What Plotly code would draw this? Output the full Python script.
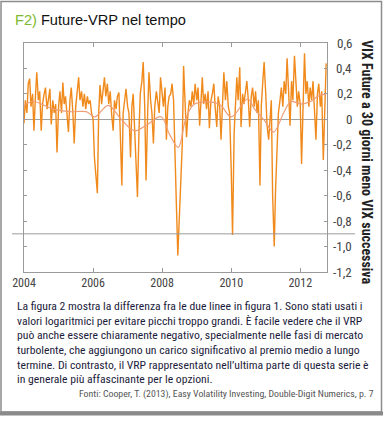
import pandas as pd
import plotly.graph_objects as go

# ---- data (semi-monthly samples) ----
vrp_2004 = [-0.03, 0.15, 0.05, 0.28, 0.32, 0.10, 0.20, -0.09, 0.18, 0.37, 0.15, 0.22,
            -0.09, 0.12, 0.20, 0.25, 0.08, 0.18, 0.24, -0.04, 0.15, 0.05, 0.12, -0.26]
vrp_2005 = [0.10, 0.22, 0.05, 0.29, 0.12, 0.18, 0.02, -0.10, 0.15, 0.25, 0.05, -0.19,
            0.10, 0.22, 0.33, 0.15, 0.22, 0.10, 0.20, 0.08, 0.18, 0.12, 0.15, 0.05]
vrp_2006 = [0.00, -0.30, -0.45, -0.58, 0.05, 0.27, 0.12, 0.25, 0.33, 0.18, 0.28, 0.12,
            0.22, 0.05, -0.09, 0.15, 0.08, 0.18, 0.21, -0.10, -0.52, 0.05, 0.15, 0.24]
vrp_2007 = [0.10, 0.05, -0.30, 0.10, 0.20, -0.05, -0.25, -0.61, -0.10, 0.20, 0.30, 0.45,
            0.10, -0.48, 0.05, 0.37, 0.15, 0.05, -0.19, 0.10, 0.22, 0.15, 0.05, 0.33]
vrp_2008 = [0.20, 0.10, 0.25, -0.16, 0.10, 0.18, 0.20, 0.28, 0.15, -0.35, -0.70, -1.07,
            -0.80, -0.55, -0.20, 0.42, 0.10, -0.14, 0.05, 0.15, 0.10, 0.22, 0.12, 0.28]
vrp_2009 = [0.15, 0.25, -0.05, 0.20, 0.33, 0.12, 0.20, 0.08, 0.22, -0.07, 0.15, 0.20,
            0.28, 0.10, -0.06, 0.18, 0.10, -0.16, 0.20, 0.37, 0.15, 0.30, 0.10, 0.05]
vrp_2010 = [-0.40, -0.91, -0.10, 0.20, 0.33, 0.15, 0.41, -0.06, 0.20, 0.12, 0.25, 0.30,
            0.15, -0.06, 0.18, 0.25, 0.10, 0.22, 0.05, 0.15, -0.52, 0.10, 0.30, 0.45]
vrp_2011 = [0.20, -0.05, -0.16, 0.05, 0.15, -0.60, -1.00, -0.55, -0.20, 0.05, 0.15, 0.25,
            0.10, 0.30, 0.20, 0.48, 0.20, -0.05, 0.30, 0.15, 0.50, 0.25, 0.10, 0.22]
vrp_2012 = [0.12, -0.35, 0.20, 0.52, 0.20, 0.30, 0.10, 0.25, 0.15, 0.30, 0.05, -0.16,
            0.20, 0.28, 0.10, 0.22, -0.32, 0.15, 0.44]

smooth_dates = ['2004-01-01', '2004-04-10', '2004-11-05', '2005-05-01', '2005-10-20',
                '2006-01-20', '2006-06-10', '2006-10-25', '2007-03-15', '2007-07-30',
                '2007-12-20', '2008-03-20', '2008-06-20', '2008-09-10', '2008-12-10',
                '2009-08-25', '2010-01-01', '2010-06-25', '2010-09-05', '2010-12-20',
                '2011-03-25', '2011-07-15', '2011-09-25', '2012-01-05', '2012-04-20',
                '2012-07-01', '2012-10-01']
smooth_vals = [0.11, 0.14, 0.08, 0.06, 0.06, 0.02, 0.11, 0.00, -0.09, -0.04, 0.02, -0.12,
               -0.22, 0.01, 0.12, 0.12, 0.02, 0.16, 0.08, -0.01, -0.10, 0.06, 0.14, 0.12,
               0.14, 0.18, 0.20]

year_ticks = ['2004-01-01', '2006-01-01', '2008-01-01', '2010-01-01', '2012-01-01']
year_labels = ['2004', '2006', '2008', '2010', '2012']
y_ticks = [0.6, 0.4, 0.2, 0, -0.2, -0.4, -0.6, -0.8, -1.0, -1.2]
y_tick_labels = ['0,6', '0,4', '0,2', '0', '-0,2', '-0,4', '-0,6', '-0,8', '-1,0', '-1,2']
ref_level = -0.9

title_tag = 'F2)'
title_text = 'Future-VRP nel tempo'
y_title = 'VIX Future a 30 giorni meno VIX successiva'
body_lines = [
    'La figura 2 mostra la differenza fra le due linee in figura 1. Sono stati usati i',
    'valori logaritmici per evitare picchi troppo grandi. È facile vedere che il VRP',
    'può anche essere chiaramente negativo, specialmente nelle fasi di mercato',
    'turbolente, che aggiungono un carico significativo al premio medio a lungo',
    'termine. Di contrasto, il VRP rappresentato nell’ultima parte di questa serie è',
    'in generale più affascinante per le opzioni.',
]
source_text = 'Fonti: Cooper, T. (2013), Easy Volatility Investing, Double-Digit Numerics, p. 7'

vrp = vrp_2004 + vrp_2005 + vrp_2006 + vrp_2007 + vrp_2008 + vrp_2009 + vrp_2010 + vrp_2011 + vrp_2012
dates = pd.date_range('2004-01-01', periods=len(vrp), freq='SMS')

# ---- layout geometry (pixels) ----
W, H = 388, 422
L, R, T, B = 24, 327, 43, 272


def px(x):
    return (x - L) / (R - L)


def py(y):
    return (B - y) / (B - T)


NARROW = 'Liberation Sans Narrow, Arial Narrow, Roboto Condensed, DejaVu Sans Condensed, sans-serif'

fig = go.Figure()
fig.add_trace(go.Scatter(x=dates, y=vrp, mode='lines',
                         line=dict(color='#f18a1c', width=1.4), hoverinfo='skip'))
fig.add_trace(go.Scatter(x=pd.to_datetime(smooth_dates), y=smooth_vals, mode='lines',
                         line=dict(color='#ef9d78', width=1.2, shape='spline'), hoverinfo='skip'))

fig.update_layout(
    width=W, height=H,
    margin=dict(l=L, r=W - R, t=T, b=H - B),
    paper_bgcolor='white', plot_bgcolor='white',
    showlegend=False,
    xaxis=dict(type='date', range=['2004-01-01', '2012-10-10'],
               tickvals=year_ticks, ticktext=year_labels,
               showline=True, linecolor='#9a9a9a', linewidth=1, mirror='allticks',
               ticks='inside', ticklen=4, tickcolor='#9a9a9a',
               showgrid=False, zeroline=False,
               tickfont=dict(family=NARROW, size=12, color='#444')),
    yaxis=dict(range=[-1.2, 0.6], tickvals=y_ticks, showticklabels=False,
               showline=True, linecolor='#9a9a9a', linewidth=1, mirror='allticks',
               ticks='inside', ticklen=3, tickcolor='#9a9a9a',
               showgrid=False, zeroline=True, zerolinecolor='#a0a0a0', zerolinewidth=1),
)

shapes = [
    dict(type='line', xref='paper', yref='y', x0=px(12), x1=px(355), y0=ref_level, y1=ref_level,
         line=dict(color='#9a9a9a', width=1)),
    dict(type='rect', xref='paper', yref='paper', x0=px(1), x1=px(381.5), y0=py(1.5), y1=py(412),
         line=dict(color='#8c8c8c', width=1.5)),
    dict(type='line', xref='paper', yref='paper', x0=px(0), x1=px(383), y0=py(413.5), y1=py(413.5),
         line=dict(color='#8a8a8a', width=4)),
]
fig.update_layout(shapes=shapes)

ann = []
ann.append(dict(xref='paper', yref='paper', x=px(13), y=py(20), xanchor='left', yanchor='middle',
                text=f"<span style='color:#7dba2f'>{title_tag}</span> {title_text}",
                showarrow=False, font=dict(family='Liberation Sans, Arial, sans-serif', size=14.6, color='#111')))
ann.append(dict(xref='paper', yref='paper', x=px(367), y=py(162), xanchor='center', yanchor='middle',
                text=f'<b>{y_title}</b>', textangle=90, showarrow=False,
                font=dict(family=NARROW, size=14, color='#222')))
for v, lab in zip(y_ticks, y_tick_labels):
    ann.append(dict(xref='paper', yref='y', x=px(353.5), y=v, xanchor='right', yanchor='middle',
                    text=lab, showarrow=False, font=dict(family=NARROW, size=13, color='#444')))
line_y = [306, 320.7, 335.3, 350, 364.7, 379.3]
for yy, t in zip(line_y, body_lines):
    ann.append(dict(xref='paper', yref='paper', x=px(15), y=py(yy), xanchor='left', yanchor='middle',
                    text=t, showarrow=False, font=dict(family=NARROW, size=11.7, color='#1c1c3c')))
ann.append(dict(xref='paper', yref='paper', x=px(376), y=py(394), xanchor='right', yanchor='middle',
                text=source_text, showarrow=False, font=dict(family=NARROW, size=9.8, color='#555')))
fig.update_layout(annotations=ann)

fig.write_html('out.html', config={'displayModeBar': False},
               post_script="document.body.style.margin='0';document.body.style.overflow='hidden';")
